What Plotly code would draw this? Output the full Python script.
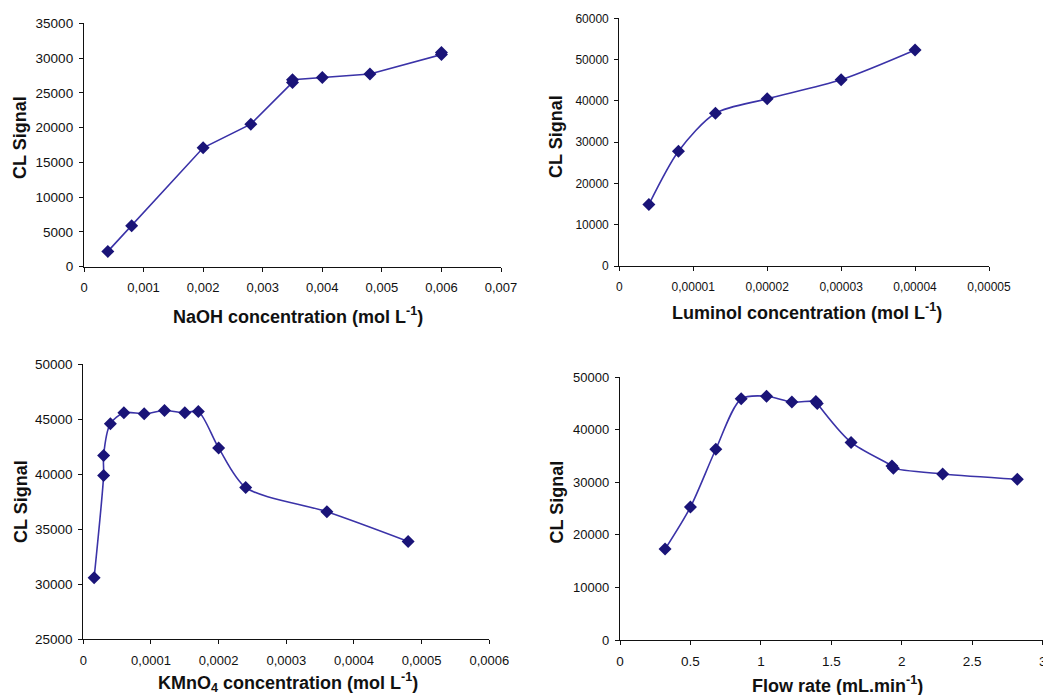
import plotly.graph_objects as go

# the page body has an 8px default margin; lay out in window pixels and shift
OFF = 8
W, H = 1051 - OFF, 695 - OFF

# ---------------- data ----------------
naoh_x = [0.0004, 0.0008, 0.002, 0.0028, 0.0035, 0.0035, 0.004, 0.0048, 0.006, 0.006]
naoh_y = [2200, 5900, 17100, 20500, 26500, 26900, 27200, 27700, 30500, 30800]

lum_x = [0.000004, 0.000008, 0.000013, 0.00002, 0.00003, 0.00004]
lum_y = [14900, 27800, 37000, 40500, 45100, 52300]

kmno4_x = [0.000016, 0.00003, 0.00003, 0.00004, 0.00006, 0.00009, 0.00012, 0.00015, 0.00017, 0.0002, 0.00024, 0.00036, 0.00048]
kmno4_y = [30600, 39900, 41700, 44600, 45600, 45500, 45800, 45600, 45700, 42400, 38800, 36600, 33900]

flow_x = [0.32, 0.5, 0.68, 0.86, 1.04, 1.22, 1.39, 1.4, 1.64, 1.93, 1.94, 2.29, 2.82]
flow_y = [17300, 25300, 36300, 45900, 46400, 45300, 45400, 45000, 37600, 33100, 32700, 31600, 30600]

naoh_xticks = [0, 0.001, 0.002, 0.003, 0.004, 0.005, 0.006, 0.007]
naoh_xtext = ["0", "0,001", "0,002", "0,003", "0,004", "0,005", "0,006", "0,007"]
naoh_yticks = [0, 5000, 10000, 15000, 20000, 25000, 30000, 35000]

lum_xticks = [0, 0.00001, 0.00002, 0.00003, 0.00004, 0.00005]
lum_xtext = ["0", "0,00001", "0,00002", "0,00003", "0,00004", "0,00005"]
lum_yticks = [0, 10000, 20000, 30000, 40000, 50000, 60000]

kmno4_xticks = [0, 0.0001, 0.0002, 0.0003, 0.0004, 0.0005, 0.0006]
kmno4_xtext = ["0", "0,0001", "0,0002", "0,0003", "0,0004", "0,0005", "0,0006"]
kmno4_yticks = [25000, 30000, 35000, 40000, 45000, 50000]

flow_xticks = [0, 0.5, 1, 1.5, 2, 2.5, 3]
flow_xtext = ["0", "0.5", "1", "1.5", "2", "2.5", "3"]
flow_yticks = [0, 10000, 20000, 30000, 40000, 50000]

# ---------------- style ----------------
LINE = "#3b33a8"
MARK = "#1a1478"
FONT = "Liberation Sans, Arial, sans-serif"
AX = "#111111"


def px(x):
    return (x - OFF) / W


def py(y):
    return 1 - (y - OFF) / H


fig = go.Figure()

panels = [
    (naoh_x, naoh_y, "linear", 1, (84, 501, 23.3, 266.7), [0, 0.007], [0, 35000],
     naoh_xticks, naoh_xtext, naoh_yticks, 13, 13.5),
    (lum_x, lum_y, "spline", 2, (619.3, 989, 18.3, 266), [0, 0.00005], [0, 60000],
     lum_xticks, lum_xtext, lum_yticks, 12, 12),
    (kmno4_x, kmno4_y, "spline", 3, (83.3, 489.3, 364.3, 639.3), [0, 0.0006], [25000, 50000],
     kmno4_xticks, kmno4_xtext, kmno4_yticks, 13, 13.5),
    (flow_x, flow_y, "spline", 4, (620, 1042.7, 377.3, 640), [0, 3], [0, 50000],
     flow_xticks, flow_xtext, flow_yticks, 13.5, 13),
]

for (xs, ys, shape, i, box, xr, yr, xt, xtt, yt, xfs, yfs) in panels:
    xa = "x" if i == 1 else f"x{i}"
    ya = "y" if i == 1 else f"y{i}"
    fig.add_trace(go.Scatter(
        x=xs, y=ys, mode="lines+markers", xaxis=xa, yaxis=ya,
        line=dict(color=LINE, width=1.6, shape=shape, smoothing=0.8),
        marker=dict(symbol="diamond", size=10, color=MARK),
        showlegend=False, hoverinfo="x+y",
    ))
    x0, x1, yt0, yb = box
    xkey = "xaxis" if i == 1 else f"xaxis{i}"
    ykey = "yaxis" if i == 1 else f"yaxis{i}"
    fig.update_layout(**{
        xkey: dict(
            domain=[px(x0), min(1.0, px(x1))], anchor=ya, range=xr,
            tickmode="array", tickvals=xt, ticktext=xtt,
            showgrid=False, zeroline=False, showline=True, linecolor=AX, linewidth=1.3,
            ticks="outside", ticklen=4, tickcolor=AX, tickwidth=1.2,
            tickfont=dict(family=FONT, size=xfs, color="#111"),
            ticklabelstandoff=5, automargin=False, fixedrange=True,
        ),
        ykey: dict(
            domain=[py(yb), py(yt0)], anchor=xa, range=yr,
            tickmode="array", tickvals=yt, ticktext=[str(v) for v in yt],
            showgrid=False, zeroline=False, showline=True, linecolor=AX, linewidth=1.3,
            ticks="outside", ticklen=4, tickcolor=AX, tickwidth=1.2,
            tickfont=dict(family=FONT, size=yfs, color="#111"),
            ticklabelstandoff=3, automargin=False, fixedrange=True,
        ),
    })

titles = [
    ("CL Signal", 20, 138, -90),
    ("CL Signal", 556, 137, -90),
    ("CL Signal", 21, 502, -90),
    ("CL Signal", 556, 502.5, -90),
    ("NaOH concentration (mol L<sup>-1</sup>)", 297.5, 315, 0),
    ("Luminol concentration (mol L<sup>-1</sup>)", 807, 311, 0),
    ("KMnO<sub>4</sub> concentration (mol L<sup>-1</sup>)", 287.5, 682, 0),
    ("Flow rate (mL.min<sup>-1</sup>)", 837.5, 684, 0),
]
for text, tx, ty, ang in titles:
    fig.add_annotation(
        text=f"<b>{text}</b>", x=px(tx), y=py(ty), xref="paper", yref="paper",
        xanchor="center", yanchor="middle", showarrow=False, textangle=ang,
        font=dict(family=FONT, size=18, color="#111"),
    )

fig.update_layout(
    width=W, height=H,
    margin=dict(l=0, r=0, t=0, b=0, autoexpand=False),
    paper_bgcolor="white", plot_bgcolor="white",
    font=dict(family=FONT),
)

fig.write_html("out.html", config={"displayModeBar": False})
